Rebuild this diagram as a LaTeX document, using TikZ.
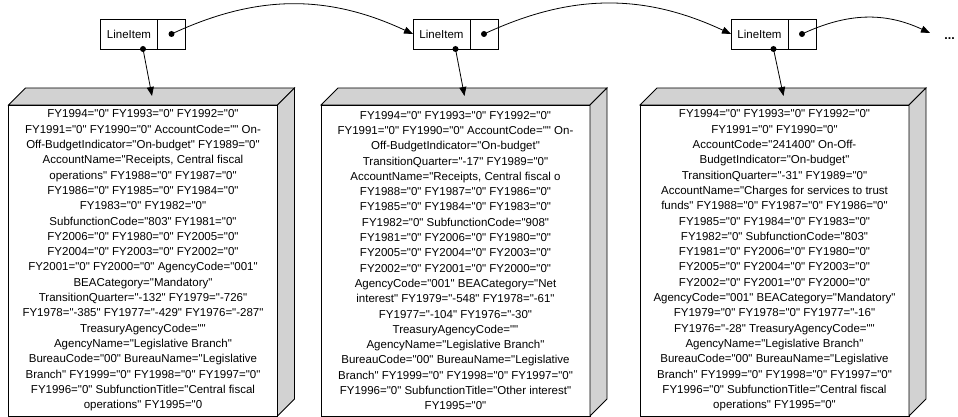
\documentclass[tikz,border=0pt]{standalone}
\usepackage{fontspec}
\setmainfont{Liberation Sans}[Ligatures=TeXOff]
\usetikzlibrary{arrows.meta, calc, positioning}

\tikzset{
  item/.style={draw, outer sep=0pt, inner sep=0pt, minimum width=57pt, minimum height=30pt, font=\fontsize{11.5}{14}\selectfont},
  ptr/.style={draw, outer sep=0pt, inner sep=0pt, minimum width=28pt, minimum height=30pt},
  rec/.style={draw, fill=white, outer sep=0pt, inner sep=0pt, minimum width=269pt, minimum height=311pt, align=center, font=\fontsize{11.5}{15.3}\selectfont},
  face/.style={draw, fill=gray!35},
  dot/.style={circle, fill, inner sep=0pt, minimum size=6pt},
}

\begin{document}
\begin{tikzpicture}[x=1pt, y=1pt, line width=.8pt, >={Triangle[length=9pt, width=7pt]}]
\useasboundingbox (0,0) rectangle (958,417);

% the list cells
\node[item] (l1) at (129,383) {LineItem};
\node[ptr, right=0pt of l1] (p1) {};
\node[item] (l2) at (441.5,383) {LineItem};
\node[ptr, right=0pt of l2] (p2) {};
\node[item] (l3) at (759.5,383) {LineItem};
\node[ptr, right=0pt of l3] (p3) {};

\node[anchor=base west, inner sep=0pt, font=\bfseries\fontsize{12.5}{14}\selectfont] (dots) at (944,377) {...};
\coordinate (more) at (930,384);

% the records
\node[rec, below=56pt of l1, xshift=14pt] (r1) {FY1994="0" FY1993="0" FY1992="0"\\
FY1991="0" FY1990="0" AccountCode="" On-\\
Off-BudgetIndicator="On-budget" FY1989="0"\\
AccountName="Receipts, Central fiscal\\
operations" FY1988="0" FY1987="0"\\
FY1986="0" FY1985="0" FY1984="0"\\
FY1983="0" FY1982="0"\\
SubfunctionCode="803" FY1981="0"\\
FY2006="0" FY1980="0" FY2005="0"\\
FY2004="0" FY2003="0" FY2002="0"\\
FY2001="0" FY2000="0" AgencyCode="001"\\
BEACategory="Mandatory"\\
TransitionQuarter="-132" FY1979="-726"\\
FY1978="-385" FY1977="-429" FY1976="-287"\\
TreasuryAgencyCode=""\\
AgencyName="Legislative Branch"\\
BureauCode="00" BureauName="Legislative\\
Branch" FY1999="0" FY1998="0" FY1997="0"\\
FY1996="0" SubfunctionTitle="Central fiscal\\
operations" FY1995="0};

\node[rec, below=56pt of l2, xshift=14pt] (r2) {FY1994="0" FY1993="0" FY1992="0"\\
FY1991="0" FY1990="0" AccountCode="" On-\\
Off-BudgetIndicator="On-budget"\\
TransitionQuarter="-17" FY1989="0"\\
AccountName="Receipts, Central fiscal o\\
FY1988="0" FY1987="0" FY1986="0"\\
FY1985="0" FY1984="0" FY1983="0"\\
FY1982="0" SubfunctionCode="908"\\
FY1981="0" FY2006="0" FY1980="0"\\
FY2005="0" FY2004="0" FY2003="0"\\
FY2002="0" FY2001="0" FY2000="0"\\
AgencyCode="001" BEACategory="Net\\
interest" FY1979="-548" FY1978="-61"\\
FY1977="-104" FY1976="-30"\\
TreasuryAgencyCode=""\\
AgencyName="Legislative Branch"\\
BureauCode="00" BureauName="Legislative\\
Branch" FY1999="0" FY1998="0" FY1997="0"\\
FY1996="0" SubfunctionTitle="Other interest"\\
FY1995="0"};

\node[rec, below=56pt of l3, xshift=15pt] (r3) {FY1994="0" FY1993="0" FY1992="0"\\
FY1991="0" FY1990="0"\\
AccountCode="241400" On-Off-\\
BudgetIndicator="On-budget"\\
TransitionQuarter="-31" FY1989="0"\\
AccountName="Charges for services to trust\\
funds" FY1988="0" FY1987="0" FY1986="0"\\
FY1985="0" FY1984="0" FY1983="0"\\
FY1982="0" SubfunctionCode="803"\\
FY1981="0" FY2006="0" FY1980="0"\\
FY2005="0" FY2004="0" FY2003="0"\\
FY2002="0" FY2001="0" FY2000="0"\\
AgencyCode="001" BEACategory="Mandatory"\\
FY1979="0" FY1978="0" FY1977="-16"\\
FY1976="-28" TreasuryAgencyCode=""\\
AgencyName="Legislative Branch"\\
BureauCode="00" BureauName="Legislative\\
Branch" FY1999="0" FY1998="0" FY1997="0"\\
FY1996="0" SubfunctionTitle="Central fiscal\\
operations" FY1995="0"};

% top and side faces
\draw[face] (r1.north west) -- ++(17,17) -- ($(r1.north east)+(17,17)$) -- (r1.north east) -- cycle;
\draw[face] (r1.north east) -- ++(17,17) -- ($(r1.south east)+(17,17)$) -- (r1.south east) -- cycle;
\draw[face] (r2.north west) -- ++(17,17) -- ($(r2.north east)+(17,17)$) -- (r2.north east) -- cycle;
\draw[face] (r2.north east) -- ++(17,17) -- ($(r2.south east)+(17,17)$) -- (r2.south east) -- cycle;
\draw[face] (r3.north west) -- ++(17,17) -- ($(r3.north east)+(17,17)$) -- (r3.north east) -- cycle;
\draw[face] (r3.north east) -- ++(17,17) -- ($(r3.south east)+(17,17)$) -- (r3.south east) -- cycle;

\coordinate (t1) at ($(r1.north)+(9,9)$);
\coordinate (t2) at ($(r2.north)+(9,9)$);
\coordinate (t3) at ($(r3.north)+(9,9)$);

% pointers
\node[dot] (d1) at (p1.center) {};
\node[dot] (d2) at (p2.center) {};
\node[dot] (d3) at (p3.center) {};
\node[dot] (b1) at ([xshift=14pt]l1.south) {};
\node[dot] (b2) at ([xshift=14pt]l2.south) {};
\node[dot] (b3) at ([xshift=14pt]l3.south) {};

\draw[->] (b1.center) -- (t1);
\draw[->] (b2.center) -- (t2);
\draw[->] (b3.center) -- (t3);

\draw[->] (d1.center) to[out=25, in=155] (l2.west);
\draw[->] (d2.center) to[out=25, in=155] (l3.west);
\draw[->] (d3.center) to[out=25, in=155] (more);

\end{tikzpicture}
\end{document}
